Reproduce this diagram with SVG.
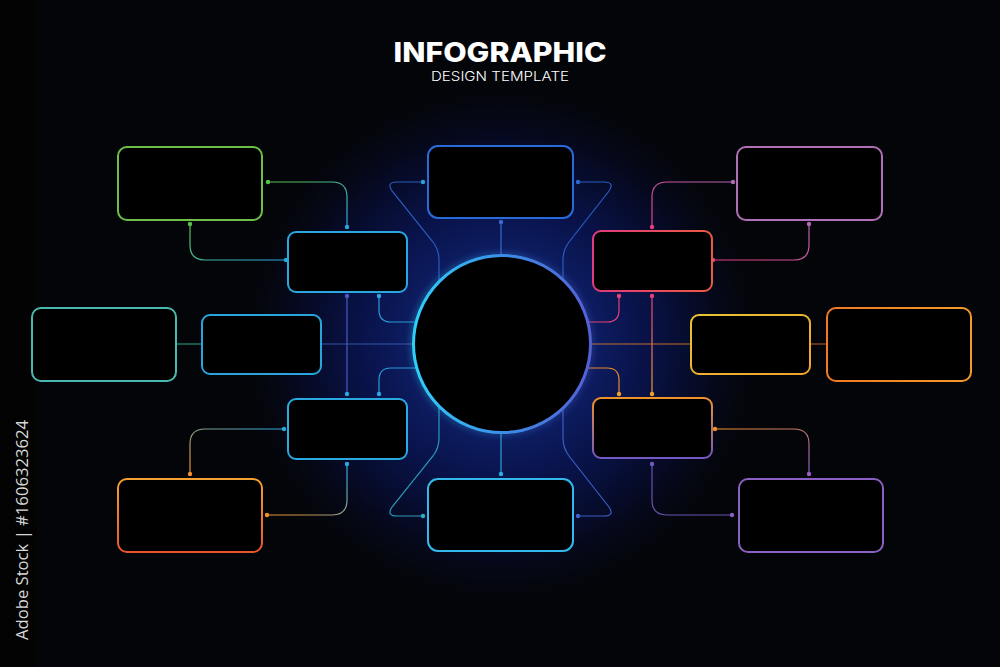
<svg xmlns="http://www.w3.org/2000/svg" width="1000" height="667" viewBox="0 0 1000 667">
<defs>
<radialGradient id="glow" cx="502" cy="344" r="280" gradientUnits="userSpaceOnUse">
<stop offset="0" stop-color="#0e1e66"/>
<stop offset="0.32" stop-color="#0d1d62"/>
<stop offset="0.5" stop-color="#09134a"/>
<stop offset="0.72" stop-color="#060a24"/>
<stop offset="1" stop-color="#040508" stop-opacity="0"/>
</radialGradient>
<linearGradient id="ring" x1="0" y1="0" x2="1" y2="0">
<stop offset="0" stop-color="#2fd0f8"/>
<stop offset="0.5" stop-color="#3a8ee8"/>
<stop offset="1" stop-color="#5460d4"/>
</linearGradient>
<linearGradient id="gPink" x1="0" y1="0" x2="1" y2="0">
<stop offset="0" stop-color="#e23a7e"/>
<stop offset="1" stop-color="#ea5a42"/>
</linearGradient>
<linearGradient id="gYellow" x1="0" y1="0" x2="1" y2="1">
<stop offset="0" stop-color="#e8c432"/>
<stop offset="1" stop-color="#f0a22e"/>
</linearGradient>
<linearGradient id="gOrange" x1="0" y1="0" x2="1" y2="0">
<stop offset="0" stop-color="#f07a24"/>
<stop offset="1" stop-color="#f59a2a"/>
</linearGradient>
<linearGradient id="gOrRed" x1="0" y1="0" x2="0" y2="1">
<stop offset="0" stop-color="#f5a032"/>
<stop offset="1" stop-color="#e8542c"/>
</linearGradient>
<linearGradient id="gOrPur" x1="0" y1="0" x2="0" y2="1">
<stop offset="0" stop-color="#f0922a"/>
<stop offset="1" stop-color="#7458c4"/>
</linearGradient>
<linearGradient id="cGreenBlue" x1="0" y1="0" x2="1" y2="1">
<stop offset="0" stop-color="#5cc04a"/>
<stop offset="1" stop-color="#2aa8e0"/>
</linearGradient>
<linearGradient id="cPinkPur" x1="1" y1="0" x2="0" y2="1">
<stop offset="0" stop-color="#b466b8"/>
<stop offset="1" stop-color="#e4407a"/>
</linearGradient>
<linearGradient id="cOrBlue" x1="0" y1="1" x2="1" y2="0">
<stop offset="0" stop-color="#f0902a"/>
<stop offset="1" stop-color="#2aa8e0"/>
</linearGradient>
<linearGradient id="cOrPur" x1="0" y1="0" x2="1" y2="1">
<stop offset="0" stop-color="#f0902a"/>
<stop offset="1" stop-color="#8a5cc4"/>
</linearGradient>
<linearGradient id="vPinkOr" x1="0" y1="296" x2="0" y2="394" gradientUnits="userSpaceOnUse">
<stop offset="0" stop-color="#e4407a"/>
<stop offset="1" stop-color="#f0a02a"/>
</linearGradient>
<filter id="blur" x="-30%" y="-30%" width="160%" height="160%">
<feGaussianBlur stdDeviation="3"/>
</filter>
</defs>
<style>
.box{fill:#000;stroke-width:2}
.c{fill:none;stroke-width:1.2}
.title{font-family:Inter,"Open Sans","Liberation Sans",sans-serif;fill:#fff}
.side{font-family:"Open Sans","Liberation Sans",sans-serif;fill:#d8d8d8}
</style>
<rect x="0" y="0" width="1000" height="667" fill="#040508"/>
<circle cx="502" cy="344" r="280" fill="url(#glow)"/>
<rect x="0" y="0" width="36" height="667" fill="#030303"/>
<text class="side" transform="translate(28,640) rotate(-90)" font-size="16" textLength="220" lengthAdjust="spacingAndGlyphs">Adobe Stock | #1606323624</text>
<g id="title">
<text class="title" x="500" y="62" text-anchor="middle" font-size="27" font-weight="800" textLength="213" lengthAdjust="spacingAndGlyphs">INFOGRAPHIC</text>
<text class="title" x="500" y="81" text-anchor="middle" font-size="13.5" font-weight="300" textLength="138" lengthAdjust="spacingAndGlyphs">DESIGN TEMPLATE</text>
</g>
<g id="connectors">
<path class="c" d="M423,182 H397 Q386,182 392,191 L433,242 Q439,250 439,260 V300" stroke="#2a5cc0"/>
<path class="c" d="M578,182 H604 Q615,182 609,191 L569,242 Q563,250 563,260 V300" stroke="#2a5cc0"/>
<line class="c" x1="501" y1="222" x2="501" y2="260" stroke="#3a6ac8"/>
<path class="c" d="M423,516 H397 Q386,516 392,507 L433,456 Q439,448 439,438 V400" stroke="#2a9ab8"/>
<path class="c" d="M578,516 H604 Q615,516 609,507 L569,456 Q563,448 563,438 V400" stroke="#3a5ec4"/>
<line class="c" x1="501" y1="430" x2="501" y2="474" stroke="#2aa0d8"/>
<line class="c" x1="176" y1="344" x2="202" y2="344" stroke="#2a8a7a"/>
<line class="c" x1="321" y1="344" x2="420" y2="344" stroke="#3454a8"/>
<line class="c" x1="347" y1="296" x2="347" y2="394" stroke="#4a5ac8"/>
<path class="c" d="M379,296 V310 Q379,322 391,322 H420" stroke="#2a9ad8"/>
<path class="c" d="M379,394 V380 Q379,368 391,368 H420" stroke="#2a9ad8"/>
<line class="c" x1="582" y1="344" x2="691" y2="344" stroke="#c07030"/>
<line class="c" x1="810" y1="344" x2="827" y2="344" stroke="#a0502a"/>
<line class="c" x1="652" y1="296" x2="652" y2="394" stroke="url(#vPinkOr)"/>
<path class="c" d="M619,296 V310 Q619,322 607,322 H582" stroke="#e4407a"/>
<path class="c" d="M619,394 V380 Q619,368 607,368 H582" stroke="#e88a2a"/>
<path class="c" d="M268,182 H332 Q347,182 347,197 V227" stroke="url(#cGreenBlue)"/>
<path class="c" d="M190,224 V245 Q190,260 205,260 H286" stroke="url(#cGreenBlue)"/>
<path class="c" d="M733,182 H667 Q652,182 652,197 V227" stroke="url(#cPinkPur)"/>
<path class="c" d="M809,224 V245 Q809,260 794,260 H713" stroke="url(#cPinkPur)"/>
<path class="c" d="M284,429 H205 Q190,429 190,444 V474" stroke="url(#cOrBlue)"/>
<path class="c" d="M347,464 V500 Q347,515 332,515 H267" stroke="url(#cOrBlue)"/>
<path class="c" d="M715,429 H794 Q809,429 809,444 V474" stroke="url(#cOrPur)"/>
<path class="c" d="M652,464 V500 Q652,515 667,515 H732" stroke="#6a52b0"/>
<g stroke="none">
<circle cx="423" cy="182" r="2.2" fill="#2aa0e0"/>
<circle cx="578" cy="182" r="2.2" fill="#2a6ad0"/>
<circle cx="501" cy="222" r="2.2" fill="#3a6ac8"/>
<circle cx="501" cy="474" r="2.2" fill="#2ab0e0"/>
<circle cx="423" cy="516" r="2.2" fill="#2ab0c0"/>
<circle cx="578" cy="516" r="2.2" fill="#3a62d0"/>
<circle cx="347" cy="296" r="2.2" fill="#4a5ac8"/>
<circle cx="379" cy="296" r="2.2" fill="#2aa8e0"/>
<circle cx="347" cy="394" r="2.2" fill="#2aa8e0"/>
<circle cx="379" cy="394" r="2.2" fill="#2aa8e0"/>
<circle cx="619" cy="296" r="2.2" fill="#e4407a"/>
<circle cx="652" cy="296" r="2.2" fill="#e4407a"/>
<circle cx="619" cy="394" r="2.2" fill="#f0a02a"/>
<circle cx="652" cy="394" r="2.2" fill="#f0a02a"/>
<circle cx="268" cy="182" r="2.2" fill="#5cc04a"/>
<circle cx="347" cy="227" r="2.2" fill="#2aa8e0"/>
<circle cx="190" cy="224" r="2.2" fill="#5cc04a"/>
<circle cx="286" cy="260" r="2.2" fill="#2aa8e0"/>
<circle cx="733" cy="182" r="2.2" fill="#b466b8"/>
<circle cx="652" cy="227" r="2.2" fill="#e4407a"/>
<circle cx="809" cy="224" r="2.2" fill="#b466b8"/>
<circle cx="713" cy="260" r="2.2" fill="#e4407a"/>
<circle cx="284" cy="429" r="2.2" fill="#2aa8e0"/>
<circle cx="190" cy="474" r="2.2" fill="#f0902a"/>
<circle cx="347" cy="464" r="2.2" fill="#2aa8e0"/>
<circle cx="267" cy="515" r="2.2" fill="#f0902a"/>
<circle cx="715" cy="429" r="2.2" fill="#f0902a"/>
<circle cx="809" cy="474" r="2.2" fill="#9a5cc4"/>
<circle cx="652" cy="464" r="2.2" fill="#7458c4"/>
<circle cx="732" cy="515" r="2.2" fill="#8a5cc4"/>
</g>
</g>
<g id="center">
<circle cx="502" cy="344" r="89" fill="none" stroke="url(#ring)" stroke-width="5" filter="url(#blur)" opacity="0.35"/>
<circle cx="502" cy="344" r="88.5" fill="#000" stroke="url(#ring)" stroke-width="3"/>
</g>
<g id="box-top"><rect class="box" x="428" y="146" width="145" height="72" rx="10" stroke="#2a6ad8"/></g>
<g id="box-bottom"><rect class="box" x="428" y="479" width="145" height="72" rx="10" stroke="#34b8ec"/></g>
<g id="box-ul-outer"><rect class="box" x="118" y="147" width="144" height="73" rx="9" stroke="#6cc04a"/></g>
<g id="box-ul-inner"><rect class="box" x="288" y="232" width="119" height="60" rx="8" stroke="#2aa6e0"/></g>
<g id="box-ur-outer"><rect class="box" x="737" y="147" width="145" height="73" rx="9" stroke="#b070b8"/></g>
<g id="box-ur-inner"><rect class="box" x="593" y="231" width="119" height="60" rx="8" stroke="url(#gPink)"/></g>
<g id="box-l-outer"><rect class="box" x="32" y="308" width="144" height="73" rx="9" stroke="#4ab8ae"/></g>
<g id="box-l-inner"><rect class="box" x="202" y="315" width="119" height="59" rx="8" stroke="#2aa4dc"/></g>
<g id="box-r-inner"><rect class="box" x="691" y="315" width="119" height="59" rx="8" stroke="url(#gYellow)"/></g>
<g id="box-r-outer"><rect class="box" x="827" y="308" width="144" height="73" rx="9" stroke="url(#gOrange)"/></g>
<g id="box-ll-inner"><rect class="box" x="288" y="399" width="119" height="60" rx="8" stroke="#2aa8e0"/></g>
<g id="box-ll-outer"><rect class="box" x="118" y="479" width="144" height="73" rx="9" stroke="url(#gOrRed)"/></g>
<g id="box-lr-inner"><rect class="box" x="593" y="398" width="119" height="60" rx="8" stroke="url(#gOrPur)"/></g>
<g id="box-lr-outer"><rect class="box" x="739" y="479" width="144" height="73" rx="9" stroke="#8a60c4"/></g>
</svg>
